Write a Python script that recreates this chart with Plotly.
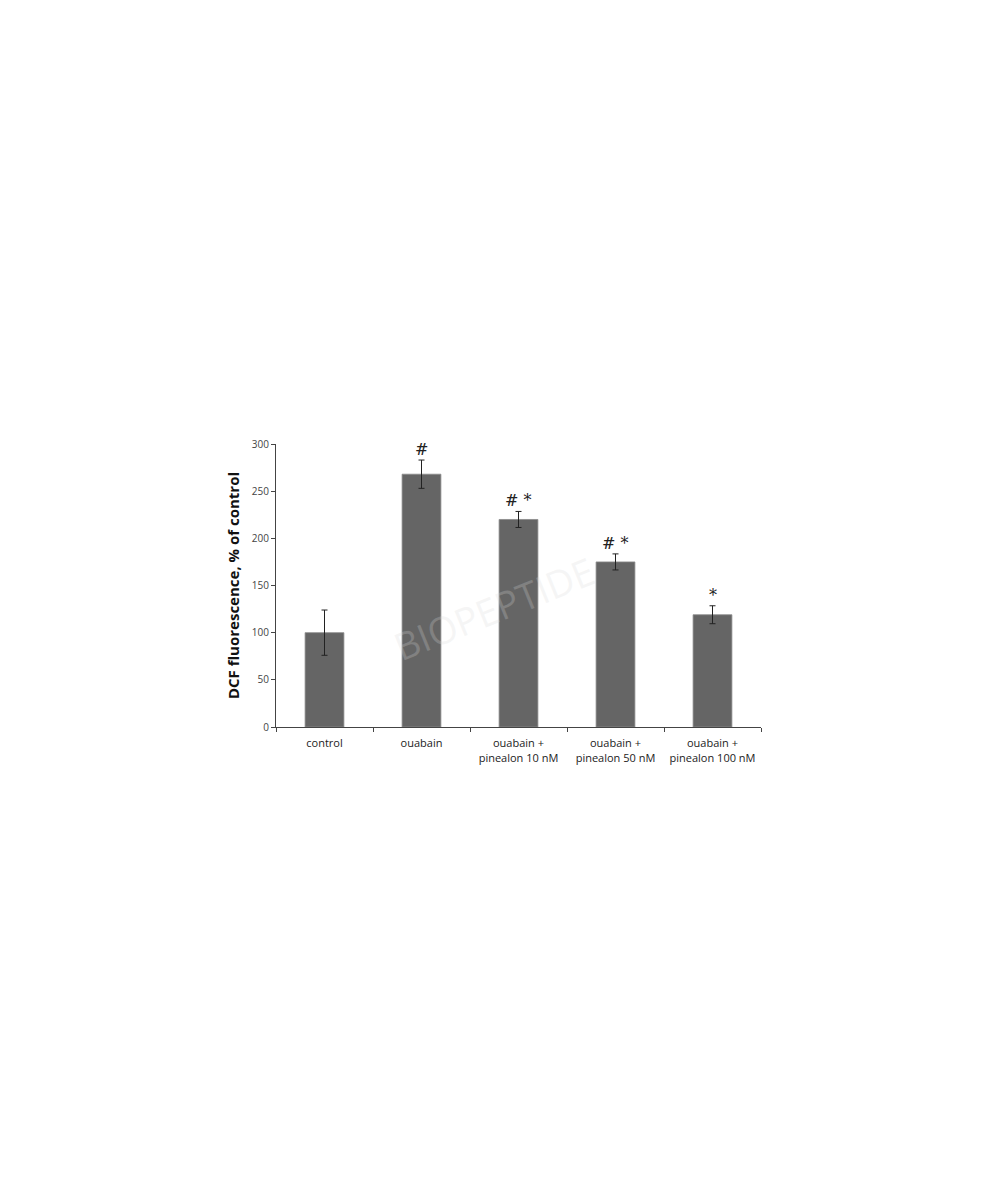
import plotly.graph_objects as go

# Data
groups = ["control", "ouabain", "ouabain +<br>pinealon 10 nM",
          "ouabain +<br>pinealon 50 nM", "ouabain +<br>pinealon 100 nM"]
dcf = [100, 268, 220, 175, 119]
sem = [24, 15, 8.5, 8.5, 9.5]
marks = ["", "#", "# *", "# *", "*"]
y_ticks = [0, 50, 100, 150, 200, 250, 300]

fig = go.Figure()

fig.add_trace(
    go.Bar(
        x=groups,
        y=dcf,
        marker=dict(color="#656565", line=dict(color="#8a8a8a", width=0.8)),
        error_y=dict(type="data", array=sem, visible=True,
                     color="#222222", thickness=1, width=3),
        width=0.4,
        showlegend=False,
    )
)

# significance marks above the error bars
for g, v, e, m in zip(groups, dcf, sem, marks):
    if m:
        fig.add_annotation(
            x=g, y=v + e, text=m, showarrow=False,
            yanchor="bottom", yshift=-1,
            font=dict(family="DejaVu Serif", size=16, color="#222222"),
        )

# faint watermark
fig.add_annotation(
    x=0.45, y=0.42, xref="paper", yref="paper", text="BIOPEPTIDE",
    showarrow=False, textangle=-22,
    font=dict(family="Open Sans", size=38, color="rgba(215,215,215,0.25)"),
)

fig.update_layout(
    width=993,
    height=1200,
    paper_bgcolor="white",
    plot_bgcolor="white",
    margin=dict(l=268, r=240, t=436, b=481),
    font=dict(family="Open Sans", color="#333333"),
)

fig.update_xaxes(
    showline=True, linecolor="#444444", linewidth=1,
    ticks="outside", tickson="boundaries", ticklen=4, tickcolor="#444444",
    tickfont=dict(size=11, color="#222222"), ticklabelstandoff=6,
    tickangle=0,
    showgrid=False,
)

fig.update_yaxes(
    range=[0, 300], tickvals=y_ticks,
    showline=True, linecolor="#444444", linewidth=1,
    ticks="outside", ticklen=4, tickcolor="#444444",
    tickfont=dict(size=10, color="#444444"),
    showgrid=False, zeroline=False,
    title=dict(text="<b>DCF fluorescence, % of control</b>",
               font=dict(size=15, color="#111111"), standoff=8),
)

fig.write_html("out.html")
